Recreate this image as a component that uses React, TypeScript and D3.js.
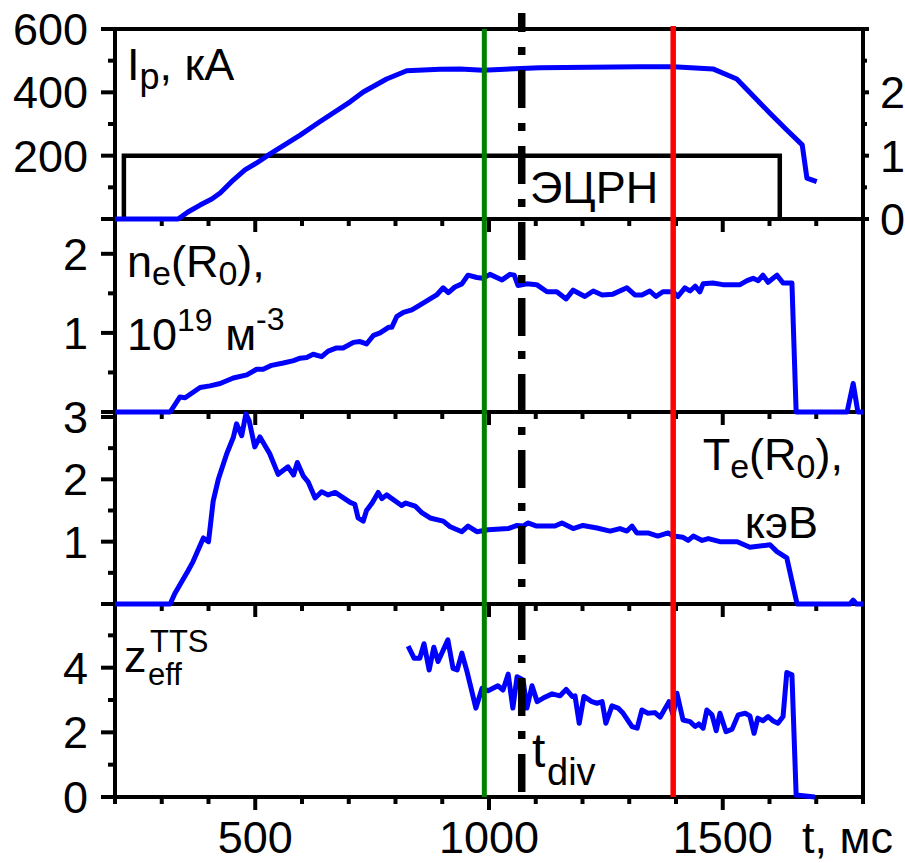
import React from 'react';
import * as d3 from 'd3';

type Pt = [number, number];

// ---------- data ----------
const tDomain: Pt = [200, 1800];
const xMajorTicks = [500, 1000, 1500];
const xMinorTicks = [200, 300, 400, 600, 700, 800, 900, 1100, 1200, 1300, 1400, 1600, 1700, 1800];

const tGreen = 990;
const tRed = 1394;
const tDiv = 1070;

// ECRH pulse (right axis units)
const ecrhOn = 219;
const ecrhOff = 1622;
const ecrhLevel = 1;

const ipData: Pt[] = [
  [200, 0], [335, 0], [356, 22], [382, 44], [407, 63], [425, 82], [453, 123], [478, 155], [503, 177],
  [531, 205], [596, 265], [638, 307], [703, 370], [731, 401], [781, 442], [824, 468], [895, 473],
  [938, 474], [987, 470], [1109, 478], [1323, 481], [1394, 481], [1479, 474], [1530, 442], [1601, 334],
  [1637, 281], [1670, 234], [1680, 129], [1701, 118],
];

const neData: Pt[] = [
  [200, 0], [318, 0], [339, 0.19], [350, 0.18], [382, 0.31], [403, 0.33], [425, 0.36], [453, 0.43],
  [482, 0.47], [503, 0.54], [517, 0.54], [535, 0.59], [560, 0.62], [582, 0.65], [596, 0.68], [610, 0.69],
  [624, 0.73], [642, 0.70], [656, 0.77], [674, 0.81], [688, 0.81], [710, 0.88], [724, 0.89], [738, 0.86],
  [753, 0.97], [767, 1.0], [785, 1.07], [792, 1.07], [803, 1.21], [817, 1.26], [835, 1.29], [852, 1.35],
  [874, 1.43], [888, 1.48], [902, 1.57], [913, 1.51], [927, 1.58], [942, 1.62], [955, 1.73], [974, 1.70],
  [987, 1.69], [1002, 1.74], [1028, 1.67], [1045, 1.74], [1054, 1.73], [1062, 1.60], [1081, 1.62],
  [1102, 1.61], [1124, 1.52], [1145, 1.52], [1165, 1.43], [1180, 1.54], [1205, 1.46], [1223, 1.53],
  [1242, 1.48], [1265, 1.49], [1295, 1.57], [1312, 1.48], [1327, 1.48], [1344, 1.53], [1357, 1.46],
  [1372, 1.52], [1394, 1.52], [1404, 1.46], [1419, 1.57], [1430, 1.53], [1441, 1.59], [1451, 1.52],
  [1458, 1.62], [1479, 1.63], [1500, 1.61], [1537, 1.61], [1552, 1.66], [1565, 1.69], [1576, 1.66],
  [1586, 1.73], [1597, 1.64], [1616, 1.73], [1629, 1.63], [1648, 1.63], [1657, 0], [1766, 0],
  [1779, 0.36], [1789, 0], [1800, 0],
];

const teData: Pt[] = [
  [200, 0], [318, 0], [328, 0.17], [356, 0.53], [367, 0.68], [389, 1.06], [400, 1.0], [410, 1.65],
  [421, 2.0], [439, 2.41], [453, 2.67], [460, 2.89], [471, 2.70], [480, 3.05], [487, 2.94], [499, 2.52],
  [510, 2.68], [521, 2.54], [531, 2.41], [549, 2.08], [570, 2.20], [582, 2.07], [590, 2.27], [603, 2.05],
  [613, 1.96], [628, 1.70], [642, 1.80], [656, 1.75], [671, 1.79], [703, 1.63], [713, 1.60], [720, 1.38],
  [731, 1.33], [738, 1.50], [750, 1.62], [763, 1.79], [771, 1.69], [781, 1.75], [813, 1.58], [822, 1.62],
  [842, 1.57], [857, 1.46], [874, 1.38], [902, 1.33], [917, 1.24], [942, 1.16], [955, 1.25], [974, 1.16],
  [998, 1.19], [1041, 1.21], [1060, 1.26], [1073, 1.25], [1083, 1.30], [1102, 1.25], [1141, 1.25],
  [1156, 1.30], [1180, 1.21], [1201, 1.26], [1231, 1.22], [1259, 1.17], [1280, 1.21], [1295, 1.17],
  [1306, 1.25], [1316, 1.14], [1340, 1.14], [1361, 1.09], [1383, 1.14], [1394, 1.09], [1415, 1.07],
  [1426, 1.02], [1437, 1.09], [1456, 1.02], [1469, 1.05], [1494, 1.0], [1531, 1.0], [1558, 0.91],
  [1590, 0.94], [1601, 0.95], [1616, 0.84], [1637, 0.74], [1659, 0], [1772, 0], [1779, 0.06], [1786, 0],
  [1800, 0],
];

const zeffData: Pt[] = [
  [827, 4.67], [840, 4.29], [852, 4.29], [861, 4.74], [872, 3.93], [882, 4.63], [891, 4.19], [912, 4.86],
  [923, 3.98], [932, 3.93], [942, 4.45], [953, 3.88], [972, 2.75], [985, 3.36], [998, 3.29], [1019, 3.44],
  [1030, 3.31], [1041, 3.80], [1051, 2.75], [1060, 3.72], [1073, 3.62], [1081, 2.75], [1092, 3.44],
  [1103, 2.95], [1116, 3.06], [1135, 3.19], [1152, 3.13], [1165, 3.33], [1178, 3.11], [1184, 3.13],
  [1193, 2.28], [1203, 3.11], [1220, 2.95], [1231, 2.90], [1242, 2.95], [1250, 2.28], [1263, 2.82],
  [1276, 2.75], [1287, 2.59], [1306, 2.18], [1317, 2.13], [1327, 2.69], [1340, 2.59], [1355, 2.61],
  [1366, 2.47], [1385, 2.95], [1394, 2.54], [1402, 3.21], [1415, 2.38], [1430, 2.33], [1441, 2.18],
  [1449, 2.26], [1458, 2.13], [1466, 2.69], [1477, 2.54], [1486, 2.05], [1494, 2.59], [1507, 2.02],
  [1520, 2.10], [1533, 2.54], [1548, 2.59], [1558, 2.51], [1567, 1.97], [1575, 2.44], [1586, 2.36],
  [1597, 2.49], [1607, 2.36], [1618, 2.28], [1629, 2.49], [1637, 3.85], [1648, 3.78], [1657, 0.06],
  [1697, 0],
];

// y-axis ticks per panel
const p1Major = [0, 200, 400, 600];
const p1Minor = [100, 300, 500];
const p1Labels = [200, 400, 600];
const p1RightMajor = [0, 1, 2, 3];
const p1RightMinor = [0.5, 1.5, 2.5];
const p1RightLabels = [0, 1, 2];
const p2Major = [0, 1, 2];
const p2Minor = [0.5, 1.5];
const p2Labels = [1, 2];
const p3Major = [0, 1, 2, 3];
const p3Minor = [0.5, 1.5, 2.5];
const p3Labels = [1, 2, 3];
const p4Major = [0, 2, 4];
const p4Minor = [1, 3, 5];
const p4Labels = [0, 2, 4];

// ---------- layout ----------
const FONT = "'Liberation Sans', Arial, Helvetica, sans-serif";
const LEFT = 115;
const RIGHT = 863;
const FS = 45;
const AX = 4;
const LW = 5;

const x = d3.scaleLinear().domain(tDomain).range([LEFT, RIGHT]);

interface PanelSpec {
  top: number;
  bottom: number;
  max: number;
  major: number[];
  minor: number[];
  labels: number[];
}

const panelSpecs: PanelSpec[] = [
  { top: 29, bottom: 219, max: 600, major: p1Major, minor: p1Minor, labels: p1Labels },
  { top: 219, bottom: 412, max: 2.44, major: p2Major, minor: p2Minor, labels: p2Labels },
  { top: 412, bottom: 604, max: 3.08, major: p3Major, minor: p3Minor, labels: p3Labels },
  { top: 604, bottom: 797, max: 5.97, major: p4Major, minor: p4Minor, labels: p4Labels },
];

const yScales = panelSpecs.map((p) => d3.scaleLinear().domain([0, p.max]).range([p.bottom, p.top]));
const yRight = d3.scaleLinear().domain([0, 3]).range([219, 29]);

function Panel({ spec, y }: { spec: PanelSpec; y: d3.ScaleLinear<number, number> }) {
  return (
    <g>
      <rect x={LEFT} y={spec.top} width={RIGHT - LEFT} height={spec.bottom - spec.top} fill="none" stroke="#000" strokeWidth={AX} />
      {xMajorTicks.map((t) => (
        <line key={'xM' + t} x1={x(t)} x2={x(t)} y1={spec.bottom} y2={spec.bottom + 13} stroke="#000" strokeWidth={AX} />
      ))}
      {xMinorTicks.map((t) => (
        <line key={'xm' + t} x1={x(t)} x2={x(t)} y1={spec.bottom} y2={spec.bottom + 7} stroke="#000" strokeWidth={AX} />
      ))}
      {spec.major.map((v) => (
        <line key={'yM' + v} x1={LEFT - 14} x2={LEFT} y1={y(v)} y2={y(v)} stroke="#000" strokeWidth={AX} />
      ))}
      {spec.minor.map((v) => (
        <line key={'ym' + v} x1={LEFT - 7} x2={LEFT} y1={y(v)} y2={y(v)} stroke="#000" strokeWidth={AX} />
      ))}
      {spec.labels.map((v) => (
        <text key={'yl' + v} x={88} y={y(v) + 16} fontSize={FS} textAnchor="end">
          {v}
        </text>
      ))}
    </g>
  );
}

export default function App() {
  const lines = [ipData, neData, teData, zeffData].map((d, i) =>
    d3
      .line<Pt>()
      .x((p) => x(p[0]))
      .y((p) => yScales[i](p[1]))(d) as string
  );

  const ecrhPath = d3.line<Pt>().x((p) => x(p[0])).y((p) => yRight(p[1]))([
    [ecrhOn, 0],
    [ecrhOn, ecrhLevel],
    [ecrhOff, ecrhLevel],
    [ecrhOff, 0],
  ]) as string;

  const xb = 853;

  return (
    <svg width={905} height={863} style={{ position: 'absolute', left: 0, top: 0 }} fontFamily={FONT}>
      <rect x={0} y={0} width={905} height={863} fill="#fff" />
      {panelSpecs.map((s, i) => (
        <Panel key={i} spec={s} y={yScales[i]} />
      ))}
      {/* right axis for ECRH */}
      {p1RightMajor.map((v) => (
        <line key={'rM' + v} x1={RIGHT} x2={RIGHT + 6} y1={yRight(v)} y2={yRight(v)} stroke="#000" strokeWidth={AX} />
      ))}
      {p1RightMinor.map((v) => (
        <line key={'rm' + v} x1={RIGHT} x2={RIGHT + 4} y1={yRight(v)} y2={yRight(v)} stroke="#000" strokeWidth={AX} />
      ))}
      {p1RightLabels.map((v) => (
        <text key={'rl' + v} x={880} y={yRight(v) + 16} fontSize={FS}>
          {v}
        </text>
      ))}

      <path d={ecrhPath} fill="none" stroke="#000" strokeWidth={4.5} />

      {lines.map((d, i) => (
        <path key={i} d={d} fill="none" stroke="#0000ff" strokeWidth={LW} strokeLinejoin="round" />
      ))}

      {/* vertical markers */}
      <line x1={x(tGreen)} x2={x(tGreen)} y1={29} y2={797} stroke="#008000" strokeWidth={5} />
      <line x1={x(tRed)} x2={x(tRed)} y1={26} y2={797} stroke="#ff0000" strokeWidth={5.5} />
      <line
        x1={x(tDiv)}
        x2={x(tDiv)}
        y1={13}
        y2={795}
        stroke="#000"
        strokeWidth={7.5}
        strokeDasharray="38 15 8 15"
        strokeDashoffset={19}
      />

      {/* x tick labels */}
      {xMajorTicks.map((t) => (
        <text key={'xl' + t} x={x(t)} y={xb} fontSize={FS} textAnchor="middle">
          {t}
        </text>
      ))}
      <text x={802} y={xb} fontSize={FS}>
        t, мс
      </text>

      {/* panel labels */}
      <text x={127} y={80} fontSize={FS}>
        I<tspan fontSize={36} dy={9}>p</tspan>
        <tspan dy={-9}>, кА</tspan>
      </text>
      <text x={530} y={203} fontSize={FS}>
        ЭЦРН
      </text>
      <text x={127} y={277} fontSize={FS}>
        n<tspan fontSize={34} dy={8}>e</tspan>
        <tspan dy={-8}>(R</tspan>
        <tspan fontSize={34} dy={8}>0</tspan>
        <tspan dy={-8}>),</tspan>
      </text>
      <text x={127} y={350} fontSize={FS}>
        10<tspan fontSize={32} dy={-19}>19</tspan>
        <tspan dy={19}> м</tspan>
        <tspan fontSize={32} dy={-20}>-3</tspan>
      </text>
      <text x={843} y={470} fontSize={FS} textAnchor="end">
        T<tspan fontSize={34} dy={8}>e</tspan>
        <tspan dy={-8}>(R</tspan>
        <tspan fontSize={34} dy={8}>0</tspan>
        <tspan dy={-8}>),</tspan>
      </text>
      <text x={818} y={538} fontSize={FS} textAnchor="end">
        кэВ
      </text>
      <text x={124} y={672} fontSize={FS}>
        z
      </text>
      <text x={148} y={685} fontSize={31}>
        eff
      </text>
      <text x={150} y={652} fontSize={31}>
        TTS
      </text>
      <text x={532} y={767} fontSize={48}>
        t
      </text>
      <text x={547} y={785} fontSize={38}>
        div
      </text>
    </svg>
  );
}
